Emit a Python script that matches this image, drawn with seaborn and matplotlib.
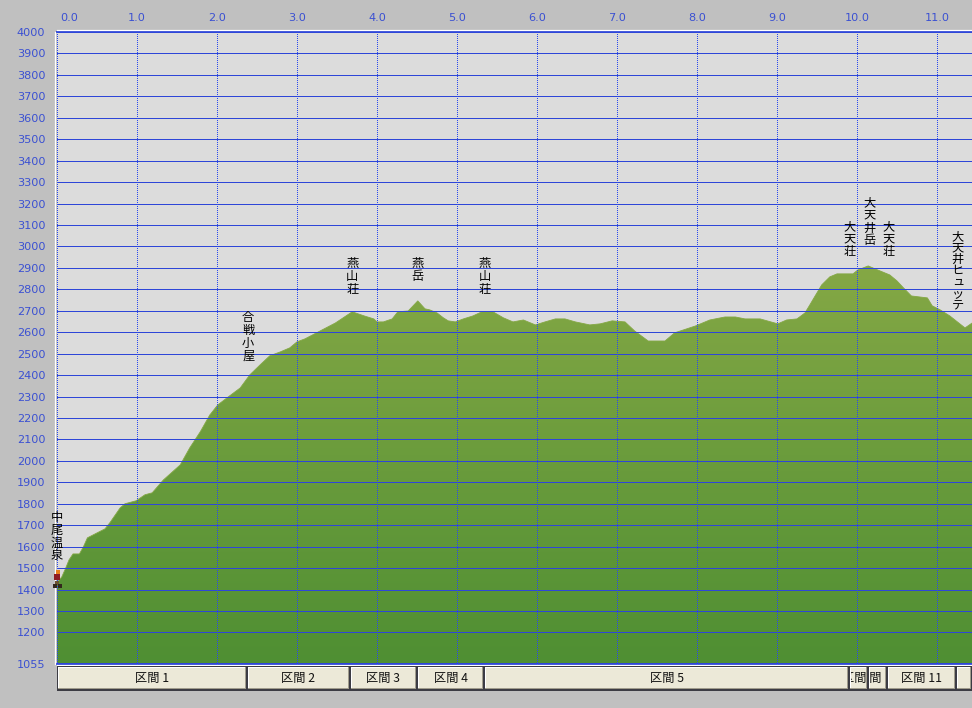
import numpy as np
import pandas as pd
import matplotlib
matplotlib.use("Agg")
import matplotlib.pyplot as plt
import seaborn as sns
from matplotlib.colors import LinearSegmentedColormap
from matplotlib.transforms import ScaledTranslation

km = [0.00,0.06,0.11,0.15,0.20,0.28,0.33,0.38,0.50,0.60,0.66,0.79,0.85,0.99,1.10,1.19,1.33,1.54,1.66,1.79,
      1.91,2.01,2.14,2.29,2.41,2.54,2.66,2.79,2.91,3.00,3.10,3.29,3.48,3.69,3.84,3.96,4.00,4.08,4.19,4.26,
      4.39,4.51,4.60,4.66,4.75,4.83,4.89,4.98,5.08,5.20,5.31,5.45,5.58,5.70,5.83,5.98,6.10,6.23,6.35,6.48,
      6.66,6.79,6.94,7.10,7.22,7.39,7.60,7.72,7.98,8.16,8.35,8.48,8.60,8.79,9.01,9.12,9.25,9.35,9.41,9.47,
      9.56,9.66,9.75,9.95,10.01,10.14,10.26,10.41,10.50,10.58,10.68,10.88,10.94,11.04,11.16,11.35,11.44]
elev = [1431,1459,1501,1538,1566,1566,1599,1641,1664,1683,1711,1781,1800,1814,1842,1851,1911,1981,2061,2135,
        2214,2261,2298,2340,2401,2448,2490,2508,2527,2555,2569,2606,2643,2695,2676,2662,2648,2648,2662,2695,
        2699,2746,2709,2704,2690,2667,2653,2648,2662,2676,2695,2695,2667,2648,2657,2634,2648,2662,2662,2648,
        2634,2639,2653,2648,2606,2559,2559,2597,2629,2657,2671,2671,2662,2662,2639,2657,2662,2690,2727,2765,
        2821,2858,2872,2872,2890,2909,2890,2867,2839,2807,2769,2760,2723,2704,2676,2620,2643]

y_ticks = [1055] + list(range(1200, 4001, 100))
x_ticks = list(range(0, 12))
x_labels = [f"{v}.0" for v in x_ticks]

place_names = ["中尾温泉","合戦小屋","燕山荘","燕岳","燕山荘","大天荘","大天井岳","大天荘","大天井ヒュッテ"]
place_km = [0.0,2.39,3.69,4.51,5.35,9.91,10.16,10.39,11.26]
place_top = [1767,2699,2951,2951,2951,3124,3235,3124,3077]
place_spacing = [0.98,0.98,0.98,0.98,0.98,0.98,0.98,0.98,0.84]

section_names = ["区間 1","区間 2","区間 3","区間 4","区間 5","区間 9","区間 10","区間 11",""]
section_edges = [0,2.375,3.66,4.5,5.34,9.9,10.14,10.375,11.24,11.44]

W, H = 972, 708
BG = "#c0c0c0"; BLUE = "#2e46d8"; TXT = "#3a50d2"
JP = ["Noto Sans CJK JP", "DejaVu Sans"]

sns.set_theme(style="white")
fig = plt.figure(figsize=(W/100, H/100), dpi=100, facecolor=BG)
L, R, T, B = 57, 972, 32, 663.5
ax = fig.add_axes([L/W, 1-B/H, (R-L)/W, (B-T)/H], facecolor="#dcdcdc")
xmax = (R-L)/80
ax.set_xlim(0, xmax); ax.set_ylim(1055, 4000)

df = pd.DataFrame({"km": km, "elev": elev})
poly = ax.fill_between(df.km, 1055, df.elev, color="none", lw=0)
cmap = LinearSegmentedColormap.from_list("g", ["#85a845", "#4f8f33"])
img = ax.imshow(np.linspace(0, 1, 256)[:, None], extent=[0, xmax, 1055, 2920], origin="upper",
                aspect="auto", cmap=cmap, zorder=1)
img.set_clip_path(poly.get_paths()[0], transform=ax.transData)
ax.set_xlim(0, xmax); ax.set_ylim(1055, 4000)
sns.lineplot(data=df, x="km", y="elev", ax=ax, color="#85a845", lw=0.6, sort=False,
             errorbar=None, zorder=1.5, legend=False)
ax.set_xlabel(""); ax.set_ylabel("")

for v in y_ticks:
    thick = v in (4000, 1055)
    ax.axhline(v, color=BLUE, lw=1.44 if thick else 0.72, zorder=2, clip_on=False, antialiased=False)
for v in x_ticks:
    ax.axvline(v, color="#2a48ee", lw=0.72, ls=(0, (1, 2)), zorder=2, clip_on=False, antialiased=False)

ax.spines["right"].set_visible(False)
for s in ("left", "bottom", "top"):
    ax.spines[s].set_color("white"); ax.spines[s].set_linewidth(0.9)
    ax.spines[s].set_position(("outward", 1.2))

ax.set_yticks(y_ticks); ax.set_yticklabels([str(v) for v in y_ticks])
ax.set_xticks(x_ticks); ax.set_xticklabels(x_labels)
ax.tick_params(axis="y", length=0, pad=7.3, labelsize=8.1, labelcolor=TXT)
ax.tick_params(axis="x", length=0, pad=5.3, labelsize=8.1, labelcolor=TXT,
               top=True, labeltop=True, bottom=False, labelbottom=False)
first = ax.xaxis.get_major_ticks()[0].label2
first.set_transform(first.get_transform() + ScaledTranslation(12/100, 0, fig.dpi_scale_trans))

for name, x, top, sp in zip(place_names, place_km, place_top, place_spacing):
    ax.text(x, top, "\n".join(name), family=JP, fontsize=8.8, color="black", ha="center", va="top",
            linespacing=sp, zorder=4, clip_on=False, multialignment="center")

# walker icon at the start of the route
ax.scatter([0.01], [1483], s=9, color="#e8801c", marker="s", lw=0, zorder=5, clip_on=False)
ax.scatter([0.0], [1459], s=20, color="#8e1c24", marker="s", lw=0, zorder=5, clip_on=False)
ax.scatter([0.0], [1431], s=8, color="#6b5430", marker="s", lw=0, zorder=5, clip_on=False)
ax.scatter([-0.03, 0.04], [1415, 1415], s=5, color="#33281c", marker="s", lw=0, zorder=5, clip_on=False)

# section buttons
BL, BT, BB = 56, 666, 691
bx = fig.add_axes([BL/W, 1-BB/H, (W-BL)/W, (BB-BT)/H])
bx.axis("off")
off = (L-BL)/80
bx.set_xlim(-off, xmax); bx.set_ylim(0, 25)
edges = np.array(section_edges)
lefts, widths = edges[:-1], np.diff(edges)
p = 1/80
bx.barh(12.5, widths, left=lefts, height=25, color="#3c3c44", lw=0)
bx.barh(13, widths-2*p, left=lefts+p, height=22, color="#a09c8c", lw=0)
bx.barh(13.5, widths-3*p, left=lefts+p, height=21, color="white", lw=0)
faces = bx.barh(13, widths-4*p, left=lefts+2*p, height=20, color="#ece9d8", lw=0)
for name, l, w, f in zip(section_names, lefts, widths, faces):
    t = bx.text(l+w/2, 12.5, name, family=JP, fontsize=8.8, color="#111111", ha="center", va="center")
    t.set_clip_on(True)
    t.set_clip_path(f)

fig.savefig("out.png", dpi=100, facecolor=BG)
